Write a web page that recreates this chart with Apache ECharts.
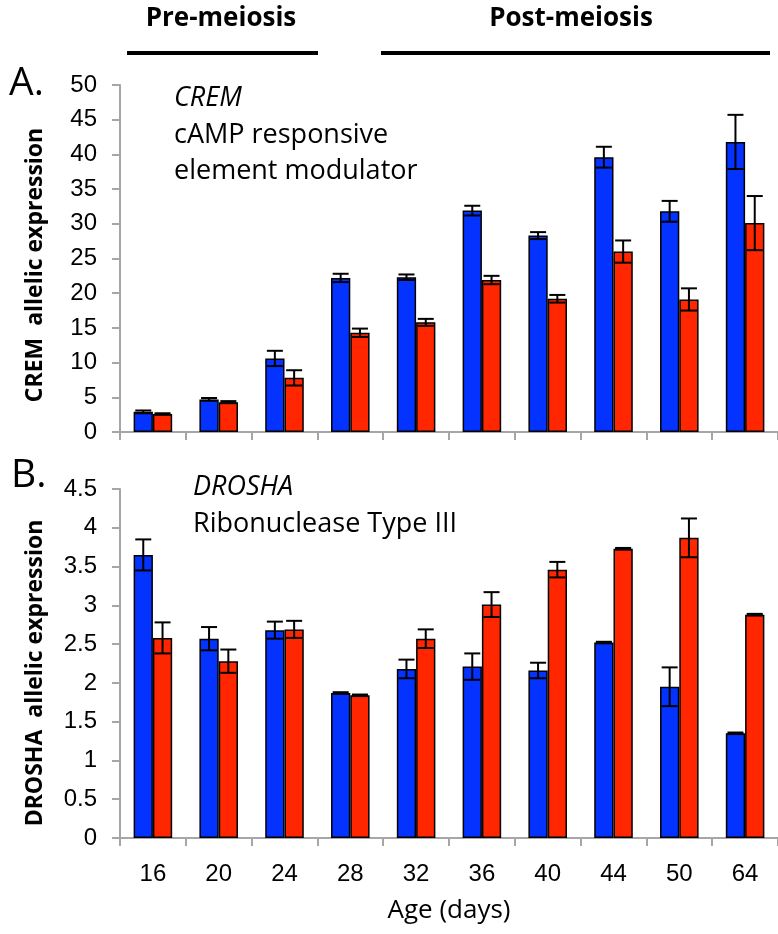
<!DOCTYPE html>
<html>
<head>
<meta charset="utf-8">
<script src="https://cdn.jsdelivr.net/npm/echarts@6/dist/echarts.min.js"></script>
<style>
  html, body { margin: 0; padding: 0; background: #fff; }
  #chart { width: 778px; height: 934px; }
</style>
</head>
<body>
<div id="chart"></div>
<script>
// Ages (days) on the shared category axis
const ages = ['16', '20', '24', '28', '32', '36', '40', '44', '50', '64'];

// Panel A: CREM allelic expression (mean and error per age)
const cremBlue    = [2.9, 4.7, 10.6, 22.2, 22.3, 31.9, 28.3, 39.6, 31.8, 41.8];
const cremBlueErr = [0.2, 0.2, 1.1, 0.6, 0.4, 0.7, 0.5, 1.5, 1.5, 3.9];
const cremRed     = [2.6, 4.3, 7.8, 14.3, 15.8, 21.9, 19.2, 26.0, 19.1, 30.1];
const cremRedErr  = [0.1, 0.15, 1.1, 0.6, 0.5, 0.6, 0.55, 1.6, 1.6, 3.9];

// Panel B: DROSHA allelic expression (mean and error per age)
const droshaBlue    = [3.65, 2.57, 2.68, 1.87, 2.18, 2.21, 2.16, 2.52, 1.95, 1.35];
const droshaBlueErr = [0.2, 0.15, 0.11, 0.01, 0.12, 0.17, 0.1, 0.01, 0.25, 0.01];
const droshaRed     = [2.58, 2.28, 2.69, 1.84, 2.57, 3.01, 3.46, 3.73, 3.87, 2.88];
const droshaRedErr  = [0.2, 0.15, 0.11, 0.01, 0.12, 0.16, 0.1, 0.01, 0.25, 0.01];

// Axis ticks
const cremTicks = { min: 0, max: 50, interval: 5 };
const droshaTicks = { min: 0, max: 4.5, interval: 0.5 };

const BLUE = '#0433ff';
const RED = '#ff2600';
const AXIS_GREY = '#a6a6a6';
const CAT_GAP = 0.414;          // share of each category left empty
const NUM_FONT = '"Liberation Sans", Arial, sans-serif';
const TEXT_FONT = '"Open Sans", Lato, sans-serif';

const chart = echarts.init(document.getElementById('chart'), null, { renderer: 'canvas' });

function errorData(values, errs) {
  return values.map((v, i) => [i, v, errs[i]]);
}

// Whiskers with caps, shifted onto the left (-1) or right (+1) bar of each pair
function errorSeries(values, errs, side, axisIndex) {
  return {
    type: 'custom',
    xAxisIndex: axisIndex,
    yAxisIndex: axisIndex,
    z: 5,
    clip: false,
    silent: true,
    encode: { x: 0, y: 1 },
    data: errorData(values, errs),
    renderItem: function (params, api) {
      const idx = api.value(0);
      const val = api.value(1);
      const err = api.value(2);
      const band = api.size([1, 0])[0];
      const off = side * band * (1 - CAT_GAP) / 4;
      const hi = api.coord([idx, val + err]);
      const lo = api.coord([idx, val - err]);
      const x = hi[0] + off;
      const cap = 8;
      const style = { stroke: '#000', lineWidth: 2 };
      return {
        type: 'group',
        children: [
          { type: 'line', shape: { x1: x, y1: hi[1], x2: x, y2: lo[1] }, style: style },
          { type: 'line', shape: { x1: x - cap, y1: hi[1], x2: x + cap, y2: hi[1] }, style: style },
          { type: 'line', shape: { x1: x - cap, y1: lo[1], x2: x + cap, y2: lo[1] }, style: style }
        ]
      };
    }
  };
}

function barSeries(name, values, color, axisIndex) {
  return {
    name: name,
    type: 'bar',
    xAxisIndex: axisIndex,
    yAxisIndex: axisIndex,
    data: values,
    barGap: '0%',
    barCategoryGap: (CAT_GAP * 100) + '%',
    itemStyle: { color: color, borderColor: '#000', borderWidth: 1.5 },
    silent: true
  };
}

function xAxisDef(gridIndex, showLabels) {
  return {
    type: 'category',
    gridIndex: gridIndex,
    data: ages,
    boundaryGap: true,
    axisLine: { show: true, lineStyle: { color: AXIS_GREY, width: 2 } },
    axisTick: { show: true, length: 8, alignWithLabel: false, lineStyle: { color: AXIS_GREY, width: 2 } },
    axisLabel: { show: showLabels, color: '#000', fontFamily: NUM_FONT, fontSize: 24, margin: 24 },
    splitLine: { show: false },
    name: showLabels ? 'Age (days)' : '',
    nameLocation: 'middle',
    nameGap: 60,
    nameTextStyle: { color: '#000', fontFamily: TEXT_FONT, fontSize: 26 }
  };
}

function yAxisDef(gridIndex, ticks) {
  return {
    type: 'value',
    gridIndex: gridIndex,
    min: ticks.min,
    max: ticks.max,
    interval: ticks.interval,
    axisLine: { show: true, lineStyle: { color: AXIS_GREY, width: 2 } },
    axisTick: { show: true, length: 8, lineStyle: { color: AXIS_GREY, width: 2 } },
    axisLabel: { color: '#000', fontFamily: NUM_FONT, fontSize: 24, margin: 23 },
    splitLine: { show: false }
  };
}

// Rotated axis titles, reading bottom to top
function yTitle(text, x, y) {
  return {
    type: 'text', x: x, y: y, rotation: Math.PI / 2,
    style: { text: text, textAlign: 'center', textVerticalAlign: 'middle', font: 'bold 23px ' + TEXT_FONT, fill: '#000' }
  };
}

function plainText(text, x, y, font, align) {
  return {
    type: 'text',
    style: { text: text, x: x, y: y, textAlign: align || 'left', textVerticalAlign: 'bottom', font: font, fill: '#000' }
  };
}

const option = {
  animation: false,
  backgroundColor: '#fff',
  grid: [
    { left: 120, top: 85, width: 666, height: 347 },
    { left: 120, top: 489, width: 666, height: 349 }
  ],
  xAxis: [xAxisDef(0, false), xAxisDef(1, true)],
  yAxis: [yAxisDef(0, cremTicks), yAxisDef(1, droshaTicks)],
  series: [
    barSeries('Allele 1', cremBlue, BLUE, 0),
    barSeries('Allele 2', cremRed, RED, 0),
    errorSeries(cremBlue, cremBlueErr, -1, 0),
    errorSeries(cremRed, cremRedErr, 1, 0),
    barSeries('Allele 1', droshaBlue, BLUE, 1),
    barSeries('Allele 2', droshaRed, RED, 1),
    errorSeries(droshaBlue, droshaBlueErr, -1, 1),
    errorSeries(droshaRed, droshaRedErr, 1, 1)
  ],
  graphic: [
    // Stage headers with their spans
    plainText('Pre-meiosis', 221, 32, 'bold 26px ' + TEXT_FONT, 'center'),
    { type: 'line', shape: { x1: 127, y1: 53, x2: 318, y2: 53 }, style: { stroke: '#000', lineWidth: 4 } },
    plainText('Post-meiosis', 571, 32, 'bold 26px ' + TEXT_FONT, 'center'),
    { type: 'line', shape: { x1: 381, y1: 53, x2: 770, y2: 53 }, style: { stroke: '#000', lineWidth: 4 } },
    // Panel letters
    plainText('A.', 9, 103, '39px ' + TEXT_FONT),
    plainText('B.', 11, 495, '39px ' + TEXT_FONT),
    // Gene annotations
    plainText('CREM', 174, 112, 'italic 27px ' + TEXT_FONT),
    plainText('cAMP responsive', 174, 149, '27px ' + TEXT_FONT),
    plainText('element modulator', 174, 185, '27px ' + TEXT_FONT),
    plainText('DROSHA', 193, 501, 'italic 27px ' + TEXT_FONT),
    plainText('Ribonuclease Type III', 193, 538, '27px ' + TEXT_FONT),
    // Axis titles
    yTitle('CREM  allelic expression', 35, 265),
    yTitle('DROSHA  allelic expression', 35, 673)
  ]
};

chart.setOption(option);
</script>
</body>
</html>
